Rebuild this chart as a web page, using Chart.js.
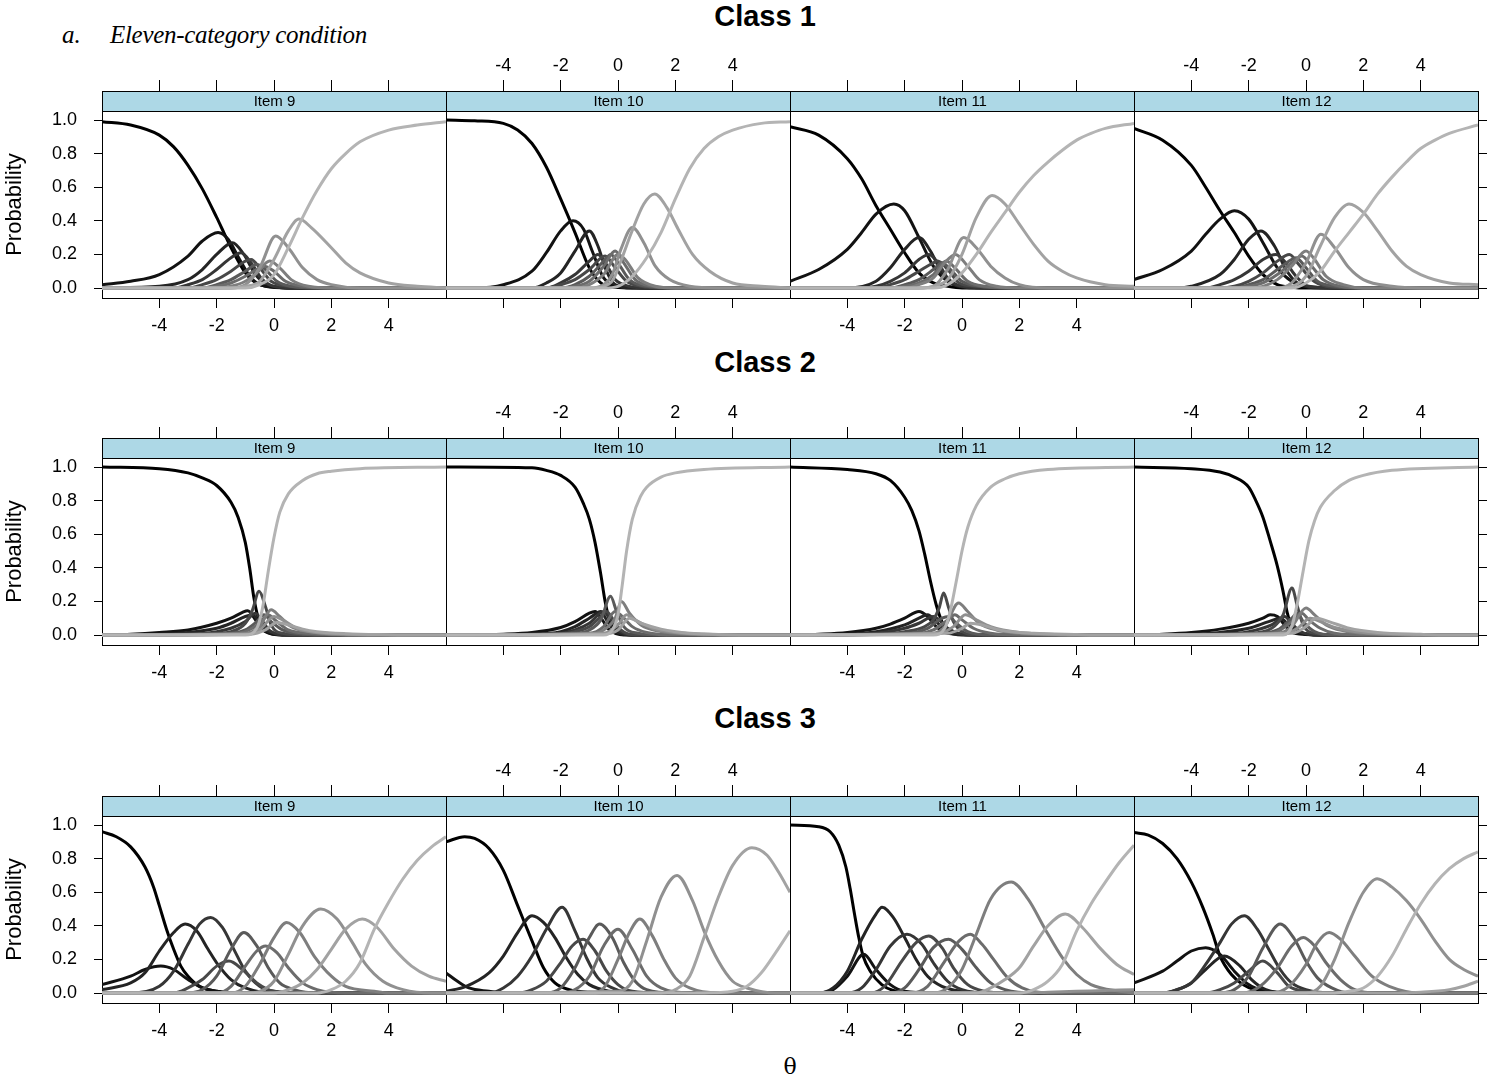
<!DOCTYPE html>
<html>
<head>
<meta charset="utf-8">
<script src="https://cdn.jsdelivr.net/npm/chart.js@4.4.1/dist/chart.umd.min.js"></script>
<style>
  body { margin: 0; background: #fff; }
  #page { position: relative; width: 1490px; height: 1081px; overflow: hidden; font-family: 'Liberation Sans', Arial, sans-serif; color: #000; }
  #page canvas { position: absolute; }
  .classTitle { position: absolute; left: 765px; transform: translateX(-50%); font-weight: bold; font-size: 29px; line-height: 34px; white-space: nowrap; }
  .heading { position: absolute; top: 19px; font: italic 25px 'Liberation Serif', serif; line-height: 32px; white-space: nowrap; }
  #theta { position: absolute; left: 790px; top: 1053px; transform: translateX(-50%); font: 22px 'DejaVu Serif', serif; line-height: 28px; }
</style>
</head>
<body>
<div id="page">
  <div class="heading" style="left:62px">a.</div>
  <div class="heading" style="left:110px;letter-spacing:-0.3px">Eleven-category condition</div>
  <div class="classTitle" style="top:-1px">Class 1</div>
  <div class="classTitle" style="top:345px">Class 2</div>
  <div class="classTitle" style="top:701px">Class 3</div>
  <div id="theta">θ</div>
</div>
<script>
// tick values and labels
const thetaTicks = [-4, -2, 0, 2, 4];
const probTicks = [0, 0.2, 0.4, 0.6, 0.8, 1.0];
const itemLabels = ['Item 9', 'Item 10', 'Item 11', 'Item 12'];

// category curves, [theta, probability], categories 1..11
const c1Item9 = [
  [[-6,0.99],[-5,0.97],[-4,0.91],[-3.5,0.84],[-3,0.73],[-2.5,0.59],[-2,0.42],[-1.75,0.33],[-1.5,0.24],[-1.25,0.16],[-1,0.09],[-0.75,0.045],[-0.5,0.02],[0,0.005],[1,0],[6,0]],
  [[-6,0.02],[-5,0.04],[-4,0.08],[-3,0.19],[-2.5,0.28],[-1.95,0.33],[-1.6,0.29],[-1.2,0.17],[-0.8,0.06],[-0.3,0.01],[0.5,0],[6,0]],
  [[-6,0],[-4,0.01],[-3,0.05],[-2.5,0.11],[-2,0.2],[-1.45,0.27],[-1.05,0.2],[-0.65,0.08],[-0.2,0.02],[0.5,0],[6,0]],
  [[-6,0],[-3.5,0],[-3,0.02],[-2.5,0.05],[-2,0.11],[-1.5,0.18],[-1.15,0.21],[-0.8,0.15],[-0.45,0.06],[0,0.01],[1,0],[6,0]],
  [[-6,0],[-3,0],[-2.5,0.02],[-2,0.05],[-1.5,0.1],[-1,0.16],[-0.8,0.17],[-0.5,0.12],[-0.1,0.04],[0.5,0.01],[1.5,0],[6,0]],
  [[-6,0],[-2.5,0],[-2,0.02],[-1.5,0.05],[-1,0.1],[-0.6,0.14],[-0.3,0.11],[0.1,0.04],[0.6,0.01],[1.5,0],[6,0]],
  [[-6,0],[-2.5,0],[-2,0.01],[-1.5,0.03],[-1,0.07],[-0.5,0.12],[-0.35,0.13],[0,0.1],[0.4,0.04],[1,0.01],[2,0],[6,0]],
  [[-6,0],[-2,0],[-1.5,0.01],[-1,0.04],[-0.6,0.09],[-0.15,0.16],[0.2,0.12],[0.6,0.05],[1.2,0.01],[2,0],[6,0]],
  [[-6,0],[-1.5,0],[-1,0.02],[-0.5,0.12],[0.06,0.31],[0.5,0.24],[1,0.12],[1.5,0.05],[2,0.02],[3,0],[6,0]],
  [[-6,0],[-1.5,0],[-1,0.01],[-0.5,0.04],[0,0.17],[0.5,0.34],[0.87,0.41],[1.3,0.36],[2,0.24],[2.5,0.15],[3,0.09],[4,0.03],[5,0.01],[6,0]],
  [[-6,0],[-1,0],[-0.5,0.02],[0,0.08],[0.5,0.24],[1,0.42],[1.5,0.58],[2,0.71],[2.5,0.8],[3,0.87],[4,0.94],[5,0.97],[6,0.99]]
];
const c1Item10 = [
  [[-6,1],[-5,0.995],[-4,0.98],[-3.5,0.94],[-3,0.86],[-2.5,0.72],[-2,0.53],[-1.5,0.33],[-1,0.12],[-0.6,0.03],[-0.2,0.005],[1,0],[6,0]],
  [[-6,0],[-5,0],[-4,0.02],[-3,0.1],[-2.5,0.21],[-2,0.34],[-1.57,0.4],[-1.2,0.35],[-0.9,0.22],[-0.5,0.06],[0,0.01],[1,0],[6,0]],
  [[-6,0],[-3,0],[-2.5,0.03],[-2,0.09],[-1.5,0.22],[-1,0.34],[-0.7,0.25],[-0.4,0.1],[-0.1,0.02],[0.5,0],[6,0]],
  [[-6,0],[-2.5,0],[-2,0.03],[-1.5,0.08],[-1,0.16],[-0.7,0.2],[-0.4,0.14],[-0.1,0.05],[0.4,0.01],[1,0],[6,0]],
  [[-6,0],[-2.5,0],[-2,0.02],[-1.5,0.05],[-1,0.11],[-0.45,0.19],[-0.1,0.12],[0.3,0.04],[0.8,0.01],[1.5,0],[6,0]],
  [[-6,0],[-2,0],[-1.5,0.02],[-1,0.07],[-0.5,0.16],[-0.25,0.2],[0,0.15],[0.4,0.05],[1,0.01],[2,0],[6,0]],
  [[-6,0],[-2,0],[-1.5,0.01],[-1,0.04],[-0.5,0.13],[-0.1,0.22],[0.2,0.15],[0.6,0.05],[1.2,0.01],[2,0],[6,0]],
  [[-6,0],[-1.5,0],[-1,0.02],[-0.5,0.08],[0,0.2],[0.25,0.17],[0.7,0.06],[1.3,0.01],[2,0],[6,0]],
  [[-6,0],[-1,0],[-0.5,0.02],[-0.2,0.08],[0.1,0.23],[0.5,0.36],[0.9,0.27],[1.3,0.13],[1.8,0.05],[2.5,0.01],[3.5,0],[6,0]],
  [[-6,0],[-1,0],[-0.5,0.01],[-0.17,0.05],[0.12,0.17],[0.47,0.33],[0.9,0.5],[1.28,0.56],[1.7,0.48],[2.1,0.35],[2.6,0.2],[3.2,0.1],[4,0.03],[5,0.01],[6,0]],
  [[-6,0],[-0.5,0],[0,0.01],[0.5,0.07],[1,0.18],[1.5,0.33],[2,0.53],[2.5,0.71],[3,0.83],[3.5,0.9],[4,0.94],[5,0.98],[6,0.99]]
];
const c1Item11 = [
  [[-6,0.96],[-5,0.91],[-4,0.77],[-3.5,0.65],[-3,0.49],[-2.5,0.35],[-2,0.21],[-1.5,0.09],[-1,0.03],[-0.5,0.01],[0,0],[6,0]],
  [[-6,0.04],[-5,0.11],[-4,0.23],[-3.5,0.33],[-3,0.44],[-2.38,0.5],[-2,0.46],[-1.5,0.3],[-1,0.13],[-0.5,0.04],[0,0.01],[1,0],[6,0]],
  [[-6,0],[-4,0],[-3,0.04],[-2.5,0.12],[-2,0.23],[-1.5,0.3],[-1.1,0.22],[-0.7,0.09],[-0.3,0.02],[0.5,0],[6,0]],
  [[-6,0],[-3.5,0],[-3,0.01],[-2.5,0.04],[-2,0.09],[-1.5,0.17],[-1.15,0.2],[-0.8,0.14],[-0.5,0.06],[0,0.01],[1,0],[6,0]],
  [[-6,0],[-3,0],[-2.5,0.02],[-2,0.05],[-1.5,0.1],[-1,0.15],[-0.85,0.16],[-0.5,0.11],[-0.1,0.03],[0.5,0.01],[1.5,0],[6,0]],
  [[-6,0],[-2.5,0],[-2,0.02],[-1.5,0.05],[-1,0.11],[-0.7,0.15],[-0.4,0.11],[0,0.04],[0.6,0.01],[1.5,0],[6,0]],
  [[-6,0],[-2.5,0],[-2,0.01],[-1.5,0.03],[-1,0.08],[-0.55,0.16],[-0.25,0.12],[0.2,0.04],[0.8,0.01],[2,0],[6,0]],
  [[-6,0],[-2,0],[-1.5,0.02],[-1,0.06],[-0.6,0.15],[-0.23,0.2],[0.2,0.13],[0.6,0.05],[1.2,0.01],[2,0],[6,0]],
  [[-6,0],[-1.5,0],[-1,0.01],[-0.5,0.11],[0.06,0.3],[0.5,0.24],[1,0.13],[1.5,0.06],[2,0.02],[3,0],[6,0]],
  [[-6,0],[-1.5,0],[-1,0.01],[-0.5,0.05],[0,0.2],[0.5,0.42],[1.05,0.55],[1.5,0.5],[2,0.38],[2.5,0.26],[3,0.16],[3.5,0.1],[4,0.06],[5,0.02],[6,0.01]],
  [[-6,0],[-1,0],[-0.5,0.02],[0,0.09],[0.5,0.2],[1,0.33],[1.5,0.45],[2,0.57],[2.5,0.67],[3,0.75],[3.5,0.82],[4,0.88],[4.5,0.92],[5,0.95],[6,0.98]]
];
const c1Item12 = [
  [[-6,0.95],[-5,0.88],[-4,0.73],[-3.5,0.6],[-3,0.46],[-2.5,0.33],[-2,0.19],[-1.5,0.08],[-1,0.02],[-0.5,0.005],[0,0],[6,0]],
  [[-6,0.05],[-5,0.11],[-4,0.22],[-3.5,0.32],[-3,0.41],[-2.5,0.46],[-2,0.41],[-1.5,0.27],[-1,0.12],[-0.5,0.04],[0,0.01],[1,0],[6,0]],
  [[-6,0],[-4.5,0],[-4,0.01],[-3,0.08],[-2.5,0.17],[-2,0.29],[-1.57,0.34],[-1.1,0.25],[-0.7,0.11],[-0.3,0.03],[0.5,0],[6,0]],
  [[-6,0],[-3.5,0],[-3,0.02],[-2.5,0.05],[-2,0.1],[-1.5,0.17],[-1.05,0.2],[-0.7,0.15],[-0.35,0.07],[0.1,0.01],[1,0],[6,0]],
  [[-6,0],[-3,0],[-2.5,0.01],[-2,0.04],[-1.5,0.09],[-1,0.16],[-0.58,0.2],[-0.25,0.14],[0.2,0.05],[0.7,0.01],[1.5,0],[6,0]],
  [[-6,0],[-2.5,0],[-2,0.02],[-1.5,0.05],[-1,0.11],[-0.5,0.17],[-0.35,0.18],[0,0.12],[0.4,0.04],[1,0.01],[2,0],[6,0]],
  [[-6,0],[-2.5,0],[-2,0.01],[-1.5,0.03],[-1,0.08],[-0.5,0.15],[-0.15,0.19],[0.2,0.13],[0.6,0.05],[1.2,0.01],[2,0],[6,0]],
  [[-6,0],[-2,0],[-1.5,0.01],[-1,0.05],[-0.5,0.13],[0,0.22],[0.3,0.17],[0.7,0.07],[1.3,0.02],[2,0],[6,0]],
  [[-6,0],[-1,0],[-0.5,0.03],[0,0.15],[0.52,0.32],[1,0.24],[1.5,0.12],[2,0.05],[3,0.01],[4,0],[6,0]],
  [[-6,0],[-1,0],[-0.5,0.01],[0,0.07],[0.5,0.25],[1,0.42],[1.5,0.5],[2,0.45],[2.5,0.34],[3,0.22],[3.5,0.13],[4,0.08],[5,0.03],[6,0.02]],
  [[-6,0],[-0.5,0],[0,0.03],[0.5,0.1],[1,0.22],[1.5,0.33],[2,0.44],[2.5,0.56],[3,0.66],[3.5,0.75],[4,0.83],[4.5,0.88],[5,0.92],[6,0.97]]
];
const c2Item9 = [
  [[-6,1],[-4,0.99],[-3,0.965],[-2.5,0.935],[-2,0.89],[-1.5,0.79],[-1.25,0.7],[-1,0.55],[-0.85,0.4],[-0.7,0.22],[-0.55,0.1],[-0.4,0.04],[-0.2,0.015],[0.5,0],[6,0]],
  [[-6,0],[-5,0.005],[-4,0.015],[-3,0.03],[-2,0.07],[-1.5,0.1],[-1.1,0.135],[-0.92,0.145],[-0.6,0.08],[-0.3,0.02],[0.3,0],[6,0]],
  [[-6,0],[-4,0.005],[-3,0.015],[-2,0.04],[-1.5,0.07],[-1,0.11],[-0.75,0.12],[-0.5,0.07],[-0.2,0.02],[0.5,0],[6,0]],
  [[-6,0],[-3,0.005],[-2,0.02],[-1.5,0.04],[-1,0.08],[-0.65,0.13],[-0.4,0.08],[-0.1,0.02],[0.5,0],[6,0]],
  [[-6,0],[-2,0.01],[-1.5,0.02],[-1,0.07],[-0.75,0.15],[-0.52,0.26],[-0.3,0.17],[-0.1,0.06],[0.3,0.01],[1,0],[6,0]],
  [[-6,0],[-2,0.005],[-1,0.03],[-0.6,0.08],[-0.35,0.12],[-0.1,0.08],[0.3,0.03],[1,0.005],[2,0],[6,0]],
  [[-6,0],[-1.5,0.005],[-1,0.02],[-0.5,0.07],[-0.22,0.12],[0.1,0.08],[0.5,0.03],[1.2,0.01],[2.5,0],[6,0]],
  [[-6,0],[-1,0.01],[-0.5,0.05],[-0.1,0.15],[0.2,0.11],[0.6,0.05],[1.2,0.02],[2,0.005],[3.5,0],[6,0]],
  [[-6,0],[-1,0.005],[-0.5,0.03],[0,0.11],[0.3,0.09],[0.8,0.04],[1.5,0.015],[2.5,0.005],[4,0],[6,0]],
  [[-6,0],[-0.8,0.005],[-0.3,0.03],[0.1,0.075],[0.5,0.06],[1,0.035],[1.5,0.02],[2.5,0.008],[4,0.002],[5,0],[6,0]],
  [[-6,0],[-1,0],[-0.6,0.04],[-0.4,0.16],[-0.2,0.38],[0,0.58],[0.2,0.73],[0.5,0.84],[1,0.92],[1.5,0.96],[2,0.975],[3,0.99],[6,1]]
];
const c2Item10 = [
  [[-6,1],[-3,0.995],[-2.5,0.98],[-2,0.95],[-1.5,0.88],[-1.2,0.78],[-1,0.69],[-0.8,0.55],[-0.6,0.36],[-0.45,0.2],[-0.3,0.09],[-0.15,0.04],[0,0.02],[0.5,0],[6,0]],
  [[-6,0],[-4,0.005],[-3,0.015],[-2,0.045],[-1.5,0.08],[-1,0.13],[-0.8,0.14],[-0.55,0.09],[-0.3,0.03],[0.2,0],[6,0]],
  [[-6,0],[-3,0.005],[-2,0.02],[-1.5,0.05],[-1,0.1],[-0.6,0.14],[-0.4,0.09],[-0.15,0.03],[0.5,0],[6,0]],
  [[-6,0],[-3.5,0],[-2,0.01],[-1.5,0.03],[-1,0.07],[-0.5,0.14],[-0.3,0.1],[0,0.03],[0.5,0],[6,0]],
  [[-6,0],[-2,0.005],[-1.5,0.02],[-1,0.05],[-0.6,0.11],[-0.4,0.14],[-0.2,0.1],[0.1,0.03],[0.6,0],[6,0]],
  [[-6,0],[-1.5,0.01],[-1,0.03],[-0.6,0.09],[-0.26,0.23],[-0.05,0.14],[0.2,0.05],[0.7,0.01],[1.5,0],[6,0]],
  [[-6,0],[-1,0.01],[-0.5,0.05],[-0.1,0.14],[0.15,0.11],[0.5,0.05],[1,0.015],[2,0],[6,0]],
  [[-6,0],[-1,0.005],[-0.5,0.03],[-0.1,0.1],[0.12,0.2],[0.4,0.13],[0.8,0.06],[1.5,0.02],[2.5,0.005],[3.5,0],[6,0]],
  [[-6,0],[-0.5,0.01],[0,0.06],[0.3,0.12],[0.6,0.09],[1.2,0.04],[2,0.015],[3,0.005],[4,0],[6,0]],
  [[-6,0],[-0.5,0.005],[0,0.03],[0.4,0.1],[0.8,0.07],[1.5,0.035],[2.5,0.01],[3.5,0.003],[5,0],[6,0]],
  [[-6,0],[-0.5,0],[-0.2,0.03],[0,0.12],[0.15,0.3],[0.3,0.5],[0.5,0.69],[0.8,0.83],[1,0.88],[1.5,0.94],[2,0.965],[3,0.985],[6,1]]
];
const c2Item11 = [
  [[-6,1],[-4,0.985],[-3,0.96],[-2.5,0.92],[-2,0.82],[-1.75,0.74],[-1.5,0.62],[-1.3,0.48],[-1.1,0.32],[-0.9,0.18],[-0.7,0.08],[-0.5,0.035],[-0.2,0.01],[0.5,0],[6,0]],
  [[-6,0],[-5,0.005],[-4,0.015],[-3,0.04],[-2.5,0.065],[-2,0.1],[-1.5,0.14],[-1.2,0.11],[-0.9,0.05],[-0.5,0.01],[0.5,0],[6,0]],
  [[-6,0],[-4,0.005],[-3,0.02],[-2,0.06],[-1.5,0.1],[-1.2,0.12],[-0.9,0.08],[-0.6,0.03],[0,0],[6,0]],
  [[-6,0],[-4.5,0],[-3,0.01],[-2,0.04],[-1.5,0.07],[-1,0.11],[-0.8,0.09],[-0.5,0.04],[0,0.005],[0.5,0],[6,0]],
  [[-6,0],[-3,0.005],[-2,0.02],[-1.3,0.05],[-1,0.09],[-0.8,0.16],[-0.64,0.25],[-0.48,0.17],[-0.3,0.08],[0,0.02],[0.5,0],[6,0]],
  [[-6,0],[-2,0.01],[-1.2,0.04],[-0.7,0.1],[-0.45,0.11],[-0.2,0.07],[0.2,0.02],[1,0],[6,0]],
  [[-6,0],[-1.5,0.01],[-1,0.03],[-0.5,0.09],[-0.25,0.12],[0,0.09],[0.4,0.04],[1,0.01],[2,0],[6,0]],
  [[-6,0],[-1,0.01],[-0.6,0.05],[-0.12,0.19],[0.2,0.14],[0.6,0.07],[1.2,0.03],[2,0.01],[3.5,0],[6,0]],
  [[-6,0],[-0.8,0.01],[-0.3,0.05],[0.12,0.12],[0.5,0.09],[1,0.05],[2,0.015],[3,0.005],[4.5,0],[6,0]],
  [[-6,0],[-0.5,0.01],[0,0.04],[0.3,0.07],[0.7,0.06],[1.3,0.03],[2.5,0.01],[4,0.003],[5,0],[6,0]],
  [[-6,0],[-1,0],[-0.6,0.04],[-0.4,0.15],[-0.2,0.32],[0,0.5],[0.2,0.64],[0.5,0.77],[1,0.88],[1.5,0.93],[2,0.96],[3,0.985],[6,1]]
];
const c2Item12 = [
  [[-6,1],[-4,0.99],[-3,0.97],[-2.5,0.94],[-2,0.88],[-1.75,0.8],[-1.5,0.7],[-1.25,0.56],[-1,0.41],[-0.8,0.26],[-0.65,0.13],[-0.5,0.05],[-0.2,0.015],[0.5,0],[6,0]],
  [[-6,0],[-5,0.005],[-4,0.015],[-3,0.035],[-2,0.07],[-1.5,0.1],[-1.25,0.12],[-1,0.11],[-0.7,0.05],[-0.4,0.01],[0.5,0],[6,0]],
  [[-6,0],[-4,0.005],[-3,0.015],[-2,0.04],[-1.3,0.08],[-0.9,0.1],[-0.6,0.06],[-0.3,0.02],[0.5,0],[6,0]],
  [[-6,0],[-3,0.005],[-2,0.02],[-1.2,0.06],[-0.75,0.11],[-0.5,0.07],[-0.2,0.02],[0.5,0],[6,0]],
  [[-6,0],[-2,0.01],[-1.2,0.04],[-0.8,0.12],[-0.49,0.28],[-0.3,0.17],[-0.1,0.06],[0.3,0.01],[1,0],[6,0]],
  [[-6,0],[-2,0.005],[-1,0.03],[-0.5,0.1],[-0.3,0.13],[-0.1,0.08],[0.3,0.02],[1,0],[6,0]],
  [[-6,0],[-1.5,0.005],[-1,0.02],[-0.5,0.08],[-0.15,0.13],[0.1,0.09],[0.5,0.04],[1,0.01],[2,0],[6,0]],
  [[-6,0],[-1,0.01],[-0.5,0.05],[0,0.16],[0.3,0.12],[0.7,0.06],[1.3,0.025],[2,0.01],[3.5,0],[6,0]],
  [[-6,0],[-0.8,0.005],[-0.3,0.04],[0.15,0.1],[0.5,0.08],[1,0.045],[2,0.015],[3,0.005],[4.5,0],[6,0]],
  [[-6,0],[-0.5,0.01],[0,0.05],[0.35,0.1],[0.8,0.08],[1.5,0.04],[2.5,0.015],[4,0.004],[5,0],[6,0]],
  [[-6,0],[-0.8,0],[-0.5,0.05],[-0.3,0.19],[-0.1,0.38],[0.1,0.56],[0.3,0.68],[0.5,0.76],[1,0.86],[1.5,0.92],[2,0.95],[3,0.98],[6,1]]
];
const c3Item9 = [
  [[-6,0.96],[-5.5,0.93],[-5,0.87],[-4.5,0.75],[-4.2,0.63],[-4,0.52],[-3.75,0.38],[-3.5,0.26],[-3.25,0.16],[-3,0.1],[-2.6,0.04],[-2,0.01],[-1,0],[6,0]],
  [[-6,0.05],[-5,0.1],[-4.5,0.14],[-3.95,0.16],[-3.5,0.14],[-3,0.08],[-2.5,0.03],[-2,0.01],[-1,0],[6,0]],
  [[-6,0.02],[-5,0.06],[-4.5,0.12],[-4,0.25],[-3.5,0.36],[-3.1,0.41],[-2.7,0.37],[-2.3,0.26],[-2,0.18],[-1.5,0.08],[-1,0.03],[0,0],[6,0]],
  [[-6,0],[-5,0],[-4,0.04],[-3.5,0.13],[-3,0.29],[-2.6,0.41],[-2.21,0.45],[-1.8,0.39],[-1.4,0.26],[-1,0.13],[-0.5,0.04],[0,0.01],[1,0],[6,0]],
  [[-6,0],[-3.5,0],[-3,0.03],[-2.5,0.08],[-2,0.16],[-1.57,0.19],[-1.1,0.14],[-0.6,0.06],[0,0.01],[1,0],[6,0]],
  [[-6,0],[-3,0],[-2.5,0.02],[-2,0.1],[-1.5,0.26],[-1.05,0.36],[-0.6,0.28],[-0.2,0.15],[0.2,0.06],[0.7,0.02],[1.5,0],[6,0]],
  [[-6,0],[-2,0],[-1.5,0.04],[-1,0.16],[-0.6,0.25],[-0.29,0.28],[0.1,0.24],[0.5,0.15],[1,0.06],[1.5,0.02],[2.5,0],[6,0]],
  [[-6,0],[-1.5,0],[-1,0.04],[-0.5,0.17],[0,0.33],[0.44,0.42],[0.9,0.36],[1.4,0.22],[2,0.1],[2.5,0.04],[3.5,0.01],[4,0],[6,0]],
  [[-6,0],[-1,0],[-0.5,0.01],[0,0.07],[0.5,0.23],[1,0.4],[1.63,0.5],[2.2,0.44],[2.7,0.31],[3.2,0.17],[3.8,0.07],[4.5,0.02],[5.5,0],[6,0]],
  [[-6,0],[0,0],[0.5,0.02],[1,0.06],[1.5,0.14],[2,0.26],[2.5,0.38],[3.08,0.44],[3.6,0.39],[4.2,0.26],[4.8,0.16],[5.4,0.1],[6,0.07]],
  [[-6,0],[1.5,0],[2,0.02],[2.5,0.07],[3,0.18],[3.5,0.38],[4,0.54],[4.5,0.68],[5,0.79],[5.5,0.87],[6,0.93]]
];
const c3Item10 = [
  [[-6,0.9],[-5.35,0.93],[-5,0.92],[-4.5,0.86],[-4,0.73],[-3.5,0.52],[-3,0.31],[-2.6,0.15],[-2.2,0.06],[-1.7,0.02],[-1,0.005],[0,0],[6,0]],
  [[-6,0.12],[-5.6,0.07],[-5.2,0.03],[-4.5,0.01],[-4,0],[6,0]],
  [[-6,0.01],[-5.3,0.04],[-4.5,0.12],[-4,0.22],[-3.5,0.36],[-3,0.46],[-2.6,0.42],[-2.2,0.33],[-1.8,0.21],[-1.4,0.11],[-1,0.05],[-0.3,0.01],[0.5,0],[6,0]],
  [[-6,0],[-4.5,0],[-4,0.03],[-3.5,0.1],[-3,0.22],[-2.5,0.38],[-1.95,0.51],[-1.5,0.37],[-1.1,0.21],[-0.7,0.09],[-0.2,0.03],[0.5,0],[6,0]],
  [[-6,0],[-3.5,0],[-3,0.02],[-2.5,0.07],[-2,0.18],[-1.6,0.28],[-1.22,0.32],[-0.8,0.25],[-0.4,0.13],[0,0.05],[0.5,0.01],[1.5,0],[6,0]],
  [[-6,0],[-2.5,0],[-2,0.03],[-1.5,0.15],[-1,0.33],[-0.64,0.41],[-0.2,0.33],[0.2,0.18],[0.6,0.07],[1,0.02],[2,0],[6,0]],
  [[-6,0],[-2,0],[-1.5,0.02],[-1,0.1],[-0.5,0.28],[0,0.38],[0.5,0.26],[1,0.1],[1.5,0.03],[2.5,0],[6,0]],
  [[-6,0],[-1,0],[-0.5,0.03],[0,0.2],[0.4,0.36],[0.76,0.44],[1.2,0.34],[1.6,0.2],[2,0.09],[2.5,0.03],[3.5,0],[6,0]],
  [[-6,0],[0,0.01],[0.5,0.07],[1,0.31],[1.5,0.57],[2.06,0.7],[2.6,0.55],[3,0.37],[3.5,0.19],[4,0.07],[4.5,0.03],[5.5,0],[6,0]],
  [[-6,0],[1.5,0],[2,0.02],[2.5,0.1],[3,0.33],[3.5,0.57],[4,0.76],[4.67,0.865],[5.2,0.82],[5.6,0.72],[6,0.6]],
  [[-6,0],[3,0],[4,0.01],[4.5,0.04],[5,0.12],[5.5,0.24],[6,0.37]]
];
const c3Item11 = [
  [[-6,1],[-5,0.99],[-4.6,0.96],[-4.3,0.88],[-4.05,0.75],[-3.9,0.62],[-3.75,0.47],[-3.6,0.33],[-3.45,0.22],[-3.2,0.13],[-2.8,0.05],[-2.4,0.015],[-1.5,0],[6,0]],
  [[-6,0],[-5,0],[-4.5,0.02],[-4,0.1],[-3.43,0.23],[-3,0.14],[-2.5,0.05],[-2,0.01],[-1,0],[6,0]],
  [[-6,0],[-5,0],[-4.5,0.03],[-4,0.13],[-3.5,0.32],[-3,0.47],[-2.79,0.51],[-2.4,0.45],[-2,0.33],[-1.6,0.2],[-1.2,0.1],[-0.7,0.04],[0,0.01],[1,0],[6,0]],
  [[-6,0],[-4,0],[-3.5,0.03],[-3,0.14],[-2.5,0.28],[-1.92,0.35],[-1.4,0.29],[-1,0.18],[-0.5,0.07],[0,0.02],[1,0],[6,0]],
  [[-6,0],[-3.2,0],[-2.7,0.04],[-2.1,0.19],[-1.6,0.3],[-1.16,0.34],[-0.7,0.27],[-0.3,0.15],[0.2,0.05],[0.8,0.01],[1.5,0],[6,0]],
  [[-6,0],[-2.5,0],[-2,0.03],[-1.5,0.14],[-1,0.27],[-0.47,0.32],[0,0.26],[0.5,0.15],[1,0.06],[1.5,0.02],[2.5,0],[6,0]],
  [[-6,0],[-1.8,0],[-1.2,0.04],[-0.6,0.19],[-0.1,0.31],[0.29,0.35],[0.7,0.29],[1.1,0.2],[1.6,0.09],[2.1,0.03],[3,0],[6,0]],
  [[-6,0],[-1,0],[-0.5,0.03],[0,0.14],[0.5,0.35],[1,0.56],[1.72,0.66],[2.3,0.56],[2.9,0.38],[3.5,0.21],[4,0.11],[4.5,0.05],[5.5,0.01],[6,0]],
  [[-6,0],[2,0],[3,0.005],[4,0.01],[5,0.015],[6,0.02]],
  [[-6,0],[0.5,0],[1,0.03],[1.5,0.08],[2,0.15],[2.5,0.28],[3,0.4],[3.6,0.47],[4.2,0.39],[4.8,0.27],[5.4,0.17],[6,0.11]],
  [[-6,0],[2,0],[2.5,0.02],[3,0.07],[3.5,0.17],[4,0.37],[4.5,0.53],[5,0.66],[5.5,0.78],[6,0.88]]
];
const c3Item12 = [
  [[-6,0.955],[-5.5,0.94],[-5,0.89],[-4.5,0.8],[-4,0.66],[-3.6,0.51],[-3.25,0.35],[-3,0.22],[-2.6,0.11],[-2.2,0.05],[-1.8,0.02],[-1,0],[6,0]],
  [[-6,0.06],[-5,0.13],[-4.5,0.19],[-4,0.25],[-3.5,0.27],[-3,0.23],[-2.5,0.13],[-2,0.05],[-1.5,0.015],[-0.5,0],[6,0]],
  [[-6,0],[-5,0],[-4.5,0.02],[-4,0.06],[-3.5,0.14],[-2.85,0.22],[-2.3,0.16],[-1.9,0.08],[-1.4,0.02],[-0.5,0],[6,0]],
  [[-6,0],[-5,0],[-4.5,0.02],[-4,0.06],[-3.5,0.17],[-3,0.3],[-2.6,0.41],[-2.15,0.46],[-1.7,0.38],[-1.3,0.26],[-0.9,0.14],[-0.5,0.06],[0,0.02],[1,0],[6,0]],
  [[-6,0],[-3.5,0],[-3,0.02],[-2.5,0.06],[-2,0.13],[-1.51,0.19],[-1,0.12],[-0.6,0.04],[0,0.01],[1,0],[6,0]],
  [[-6,0],[-3,0],[-2.5,0.02],[-2,0.1],[-1.5,0.27],[-0.9,0.41],[-0.4,0.32],[0,0.19],[0.4,0.09],[0.9,0.03],[1.5,0],[6,0]],
  [[-6,0],[-2.2,0],[-1.6,0.04],[-1,0.15],[-0.5,0.28],[-0.09,0.33],[0.3,0.28],[0.7,0.18],[1.2,0.08],[1.7,0.02],[2.5,0],[6,0]],
  [[-6,0],[-1.2,0],[-0.6,0.04],[0,0.17],[0.4,0.3],[0.81,0.36],[1.2,0.32],[1.7,0.22],[2.3,0.1],[2.9,0.04],[4,0],[6,0]],
  [[-6,0],[0,0],[0.5,0.04],[1,0.2],[1.5,0.42],[2,0.6],[2.48,0.68],[3,0.63],[3.5,0.55],[4,0.44],[4.5,0.31],[5,0.2],[5.5,0.14],[6,0.1]],
  [[-6,0],[3,0],[4,0.005],[5,0.02],[5.5,0.04],[6,0.07]],
  [[-6,0],[1,0],[1.5,0.01],[2,0.03],[2.5,0.1],[3,0.22],[3.5,0.38],[4,0.53],[4.5,0.65],[5,0.74],[5.5,0.8],[6,0.84]]
];

const panelData = [
  [c1Item9, c1Item10, c1Item11, c1Item12],
  [c2Item9, c2Item10, c2Item11, c2Item12],
  [c3Item9, c3Item10, c3Item11, c3Item12]
];

// layout (pixels)
const colLeft = [102, 446, 790, 1134];
const rowTop = [111, 458, 816];
const plotW = 344, plotH = 187;
const padL = 102, padR = 20, padT = 62, padB = 45;
const tickFont = { family: "'Liberation Sans', Arial, sans-serif", size: 18 };

// strip above each panel, drawn over the inner part of the top tick marks
const stripPlugin = {
  id: 'strip',
  afterDraw(chart, args, opts) {
    const { ctx, chartArea: a } = chart;
    const left = Math.round(a.left) + 0.5, top = Math.round(a.top) - 19.5;
    const w = Math.round(a.right - a.left);
    ctx.save();
    ctx.fillStyle = '#add8e6';
    ctx.fillRect(left, top, w, 20);
    ctx.strokeStyle = '#000';
    ctx.lineWidth = 1;
    ctx.strokeRect(left, top, w, 20);
    ctx.fillStyle = '#000';
    ctx.font = "15px 'Liberation Sans', Arial, sans-serif";
    ctx.textAlign = 'center';
    ctx.textBaseline = 'middle';
    ctx.fillText(opts.text, left + w / 2, top + 10.5);
    ctx.restore();
  }
};

function shade(i) {
  const g = Math.round(i * 180 / 10);
  return 'rgb(' + g + ',' + g + ',' + g + ')';
}

function makePanel(row, col) {
  const canvas = document.createElement('canvas');
  canvas.width = padL + plotW + padR;
  canvas.height = padT + plotH + padB;
  canvas.style.left = (colLeft[col] - padL) + 'px';
  canvas.style.top = (rowTop[row] - padT) + 'px';
  document.getElementById('page').appendChild(canvas);

  const curves = panelData[row][col];
  const datasets = curves.map((pts, i) => ({
    label: 'Category ' + (i + 1),
    data: pts.map(([x, y]) => ({ x, y })),
    borderColor: shade(i),
    borderWidth: 3,
    pointRadius: 0,
    fill: false,
    cubicInterpolationMode: 'monotone',
    clip: 0,
    order: curves.length - 1 - i
  }));

  const bottomLabels = col === 0 || col === 2;
  const topLabels = col === 1 || col === 3;
  const xBase = (pos, labels, tl, pad, size) => ({
    type: 'linear', position: pos, min: -6, max: 6,
    afterBuildTicks: s => { s.ticks = thetaTicks.map(v => ({ value: v })); },
    afterFit: s => { s.height = size; },
    ticks: { display: labels, autoSkip: false, maxRotation: 0, padding: pad, color: '#000', font: tickFont },
    grid: { drawOnChartArea: false, drawTicks: true, tickLength: tl, color: '#000', lineWidth: 1 },
    border: { display: true, color: '#000', width: 1 }
  });
  const yBase = (pos, tl, labels, size) => ({
    type: 'linear', position: pos, min: -0.0595, max: 1.0536,
    afterBuildTicks: s => { s.ticks = probTicks.map(v => ({ value: v })); },
    afterFit: s => { s.width = size; },
    ticks: { display: labels, padding: 17, color: '#000', font: tickFont, callback: v => v.toFixed(1) },
    grid: { drawOnChartArea: false, drawTicks: tl > 0, tickLength: tl, color: '#000', lineWidth: 1 },
    border: { display: true, color: '#000', width: 1 }
  });

  const yLeft = yBase('left', col === 0 ? 8 : 0, col === 0, padL);
  yLeft.title = {
    display: col === 0, text: 'Probability', color: '#000',
    font: { family: "'Liberation Sans', Arial, sans-serif", size: 22 },
    padding: { top: 2, bottom: 0 }
  };

  new Chart(canvas, {
    type: 'line',
    data: { datasets },
    options: {
      responsive: false,
      animation: false,
      devicePixelRatio: 1,
      layout: { padding: 0 },
      scales: {
        x: xBase('bottom', bottomLabels, 10, 7, padB),
        x2: xBase('top', topLabels, 31, 3, padT),
        y: yLeft,
        y2: yBase('right', col === 3 ? 9 : 0, false, padR)
      },
      plugins: {
        legend: { display: false },
        tooltip: { enabled: false },
        strip: { text: itemLabels[col] }
      }
    },
    plugins: [stripPlugin]
  });
}

for (let r = 0; r < 3; r++) {
  for (let c = 0; c < 4; c++) makePanel(r, c);
}
</script>
</body>
</html>
